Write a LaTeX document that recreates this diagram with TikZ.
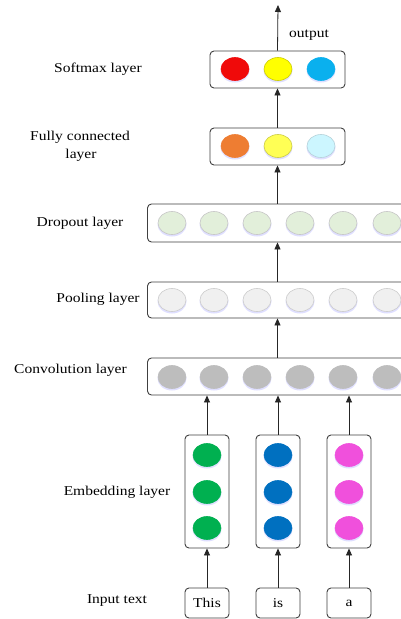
\documentclass[tikz,border=0pt]{standalone}
\usepackage{fontspec}
\setmainfont{Liberation Serif}[FakeStretch=1.15]
\usetikzlibrary{arrows.meta}
\definecolor{boxline}{HTML}{404040}
\definecolor{cRed}{HTML}{F00A0A}
\definecolor{cYel}{HTML}{FFFF00}
\definecolor{cBlu}{HTML}{0AB0EE}
\definecolor{cOra}{HTML}{EE7D32}
\definecolor{cYel2}{HTML}{FFFF55}
\definecolor{cCya}{HTML}{CCF6FF}
\definecolor{cDrop}{HTML}{E2EFDA}
\definecolor{cPool}{HTML}{F0F0F0}
\definecolor{cConv}{HTML}{BDBDBD}
\definecolor{cGrn}{HTML}{00B050}
\definecolor{cEBlu}{HTML}{0070C0}
\definecolor{cMag}{HTML}{F050DC}
\tikzset{
  layerbox/.style={draw=boxline, line width=0.9pt, rounded corners=4pt, fill=white},
  lbl/.style={font=\fontsize{13.5}{16}\selectfont, inner sep=0pt},
  wordtxt/.style={font=\fontsize{13.5}{16}\selectfont, inner sep=0pt},
  conn/.style={draw=black!85, line width=0.8pt, -{Triangle[length=7pt,width=6pt]}},
}
\newcommand{\unitell}[4]{% x y color border
  \fill[blue!35, opacity=0.35] (#1,#2+1.5) ellipse [x radius=14.5, y radius=12];
  \filldraw[fill=#3, draw=#4, line width=0.6pt] (#1,#2) ellipse [x radius=14, y radius=11.5];
}
\begin{document}
\begin{tikzpicture}[x=1pt,y=-1pt]
\useasboundingbox (0,0) rectangle (400,619);
\fill[white] (0,0) rectangle (400,619);

% ---- boxes (nodes) ----
\node[layerbox, minimum width=135pt, minimum height=37pt, inner sep=0pt] (soft) at (277.5,69.5) {};
\node[layerbox, minimum width=135pt, minimum height=37pt, inner sep=0pt] (fc) at (277.5,146.5) {};
\node[layerbox, minimum width=265pt, minimum height=38pt, inner sep=0pt] (drop) at (280,223) {};
\node[layerbox, minimum width=265pt, minimum height=36pt, inner sep=0pt] (pool) at (280,300) {};
\node[layerbox, minimum width=265pt, minimum height=37pt, inner sep=0pt] (conv) at (280,376.5) {};
\node[layerbox, minimum width=44pt, minimum height=113pt, inner sep=0pt] (e1) at (207,491.5) {};
\node[layerbox, minimum width=44pt, minimum height=113pt, inner sep=0pt] (e2) at (278,491.5) {};
\node[layerbox, minimum width=44pt, minimum height=113pt, inner sep=0pt] (e3) at (349,491.5) {};
\node[layerbox, minimum width=44pt, minimum height=30pt, inner sep=0pt] (t1) at (207,603) {};
\node[layerbox, minimum width=44pt, minimum height=30pt, inner sep=0pt] (t2) at (278,603) {};
\node[layerbox, minimum width=44pt, minimum height=30pt, inner sep=0pt] (t3) at (349,603) {};
\node[wordtxt] (w1) at (207,603) {This};
\node[wordtxt] (w2) at (278,603) {is};
\node[wordtxt] (w3) at (349,603) {a};

% ---- units ----
\unitell{235}{69}{cRed}{cRed}
\unitell{278}{69}{cYel}{cYel!80!black}
\unitell{321}{69}{cBlu}{cBlu}
\unitell{235}{146}{cOra}{cOra}
\unitell{278}{146}{cYel2}{cYel2!80!black}
\unitell{321}{146}{cCya}{cCya!70!gray}
\foreach \xx in {172,214,257,300,343,387}{
  \unitell{\xx}{223}{cDrop}{gray!45}
  \unitell{\xx}{300}{cPool}{gray!40}
  \unitell{\xx}{377}{cConv}{cConv}
}
\foreach \yy in {455,492,528}{
  \unitell{207}{\yy}{cGrn}{cGrn}
  \unitell{278}{\yy}{cEBlu}{cEBlu}
  \unitell{349}{\yy}{cMag}{cMag}
}

% ---- connectors ----
\coordinate (top) at (278,5);
\draw[conn] (soft.north) -- (top);
\draw[conn] (fc.north) -- (soft.south);
\draw[conn] (drop.north -| fc.north) -- (fc.south);
\draw[conn] (pool.north -| fc.north) -- (drop.south -| fc.south);
\draw[conn] (conv.north -| fc.north) -- (pool.south -| fc.south);
\draw[conn] (e1.north) -- (conv.south -| e1.north);
\draw[conn] (e2.north) -- (conv.south -| e2.north);
\draw[conn] (e3.north) -- (conv.south -| e3.north);
\draw[conn] (t1.north) -- (e1.south);
\draw[conn] (t2.north) -- (e2.south);
\draw[conn] (t3.north) -- (e3.south);

% ---- labels ----
\node[lbl] (outl) at (309,35) {output};
\node[lbl] (lsoft) at (98,69) {Softmax layer};
\node[lbl] (lfc1) at (80,137) {Fully connected};
\node[lbl] (lfc2) at (81,155) {layer};
\node[lbl] (ldrop) at (80,223) {Dropout layer};
\node[lbl] (lpool) at (98,299) {Pooling layer};
\node[lbl] (lconv) at (70.5,370) {Convolution layer};
\node[lbl] (lemb) at (117,492) {Embedding layer};
\node[lbl] (linp) at (117,601) {Input text};
\end{tikzpicture}
\end{document}
